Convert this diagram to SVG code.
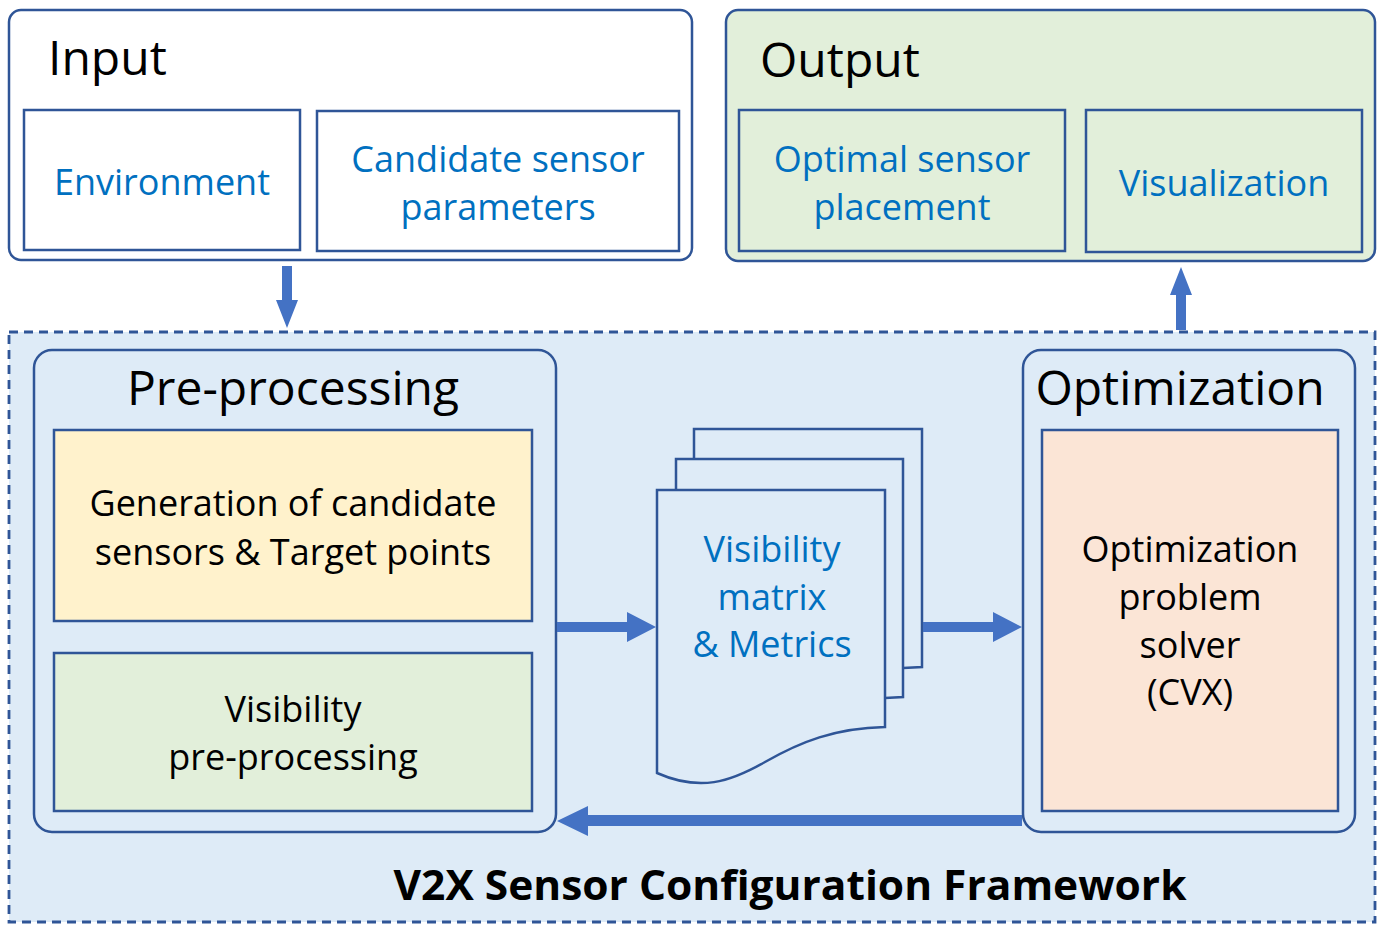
<svg xmlns="http://www.w3.org/2000/svg" width="1384" height="932" viewBox="0 0 1384 932">
<style>
.box{stroke:#2F5597;stroke-width:2.5}
.t{font-family:"Open Sans","Noto Sans","DejaVu Sans",sans-serif}
.blue{fill:#0070C0;font-size:36px}
.blk{fill:#000;font-size:36px}
.title{fill:#000;font-size:48px}
.arrow{fill:#4472C4}
</style>
<rect x="0" y="0" width="1384" height="932" fill="#fff"/>
<g id="framework">
<rect x="9" y="332" width="1366" height="590" fill="#DEEBF7" stroke="#2F5597" stroke-width="2.8" stroke-dasharray="9,6"/>
<text class="t" x="790" y="900" text-anchor="middle" font-size="41" font-weight="bold" fill="#000" textLength="793" lengthAdjust="spacingAndGlyphs">V2X Sensor Configuration Framework</text>
</g>
<g id="input">
<rect class="box" x="9" y="10" width="683" height="250" rx="12" fill="#fff"/>
<text class="t title" x="48" y="75">Input</text>
</g>
<g id="environment">
<rect class="box" x="24" y="110" width="276" height="140" fill="#fff"/>
<text class="t blue" x="162" y="195" text-anchor="middle">Environment</text>
</g>
<g id="candidate">
<rect class="box" x="317" y="111" width="362" height="140" fill="#fff"/>
<text class="t blue" x="498" y="172" text-anchor="middle">Candidate sensor</text>
<text class="t blue" x="498" y="220" text-anchor="middle">parameters</text>
</g>
<g id="output">
<rect class="box" x="726" y="10" width="649" height="251" rx="12" fill="#E2EFDA"/>
<text class="t title" x="760" y="77">Output</text>
</g>
<g id="optimal">
<rect class="box" x="739" y="110" width="326" height="141" fill="#E2EFDA"/>
<text class="t blue" x="902" y="172" text-anchor="middle">Optimal sensor</text>
<text class="t blue" x="902" y="220" text-anchor="middle">placement</text>
</g>
<g id="visualization">
<rect class="box" x="1086" y="110" width="276" height="142" fill="#E2EFDA"/>
<text class="t blue" x="1224" y="196" text-anchor="middle">Visualization</text>
</g>
<g id="preprocessing">
<rect class="box" x="34" y="350" width="522" height="482" rx="18" fill="#DEEBF7"/>
<text class="t title" x="293" y="405" text-anchor="middle">Pre-processing</text>
</g>
<g id="generation">
<rect class="box" x="54" y="430" width="478" height="191" fill="#FFF2CC"/>
<text class="t blk" x="293" y="516" text-anchor="middle">Generation of candidate</text>
<text class="t blk" x="293" y="565" text-anchor="middle">sensors &amp; Target points</text>
</g>
<g id="visprep">
<rect class="box" x="54" y="653" width="478" height="158" fill="#E2EFDA"/>
<text class="t blk" x="293" y="722" text-anchor="middle">Visibility</text>
<text class="t blk" x="293" y="770" text-anchor="middle">pre-processing</text>
</g>
<g id="optimization">
<rect class="box" x="1023" y="350" width="332" height="482" rx="18" fill="#DEEBF7"/>
<text class="t title" x="1180" y="405" text-anchor="middle">Optimization</text>
</g>
<g id="solver">
<rect class="box" x="1042" y="430" width="296" height="381" fill="#FBE5D6"/>
<text class="t blk" x="1190" y="562" text-anchor="middle">Optimization</text>
<text class="t blk" x="1190" y="610" text-anchor="middle">problem</text>
<text class="t blk" x="1190" y="658" text-anchor="middle">solver</text>
<text class="t blk" x="1190" y="705" text-anchor="middle">(CVX)</text>
</g>
<g id="matrix">
<path class="box" d="M694,490 L694,429 L922,429 L922,667 L903,668" fill="#DEEBF7"/>
<path class="box" d="M676,490 L676,459 L903,459 L903,697 L885,698" fill="#DEEBF7"/>
<path class="box" d="M657,490 L885,490 L885,727 C835,728 800,742 765,762 C730,782 700,792 657,773 Z" fill="#DEEBF7"/>
<text class="t blue" x="772" y="562" text-anchor="middle">Visibility</text>
<text class="t blue" x="772" y="610" text-anchor="middle">matrix</text>
<text class="t blue" x="772" y="657" text-anchor="middle">&amp; Metrics</text>
</g>
<g id="connectors">
<path class="arrow" d="M282,266 L292,266 L292,300 L298,300 L287,328 L276,300 L282,300 Z"/>
<path class="arrow" d="M1176,330 L1186,330 L1186,295 L1192,295 L1181,267 L1170,295 L1176,295 Z"/>
<path class="arrow" d="M557,622 L627,622 L627,612 L656,627 L627,642 L627,632 L557,632 Z"/>
<path class="arrow" d="M923,622 L993,622 L993,612 L1022,627 L993,642 L993,632 L923,632 Z"/>
<path class="arrow" d="M1022,815 L588,815 L588,806 L557,821 L588,836 L588,826 L1022,826 Z"/>
</g>
</svg>
